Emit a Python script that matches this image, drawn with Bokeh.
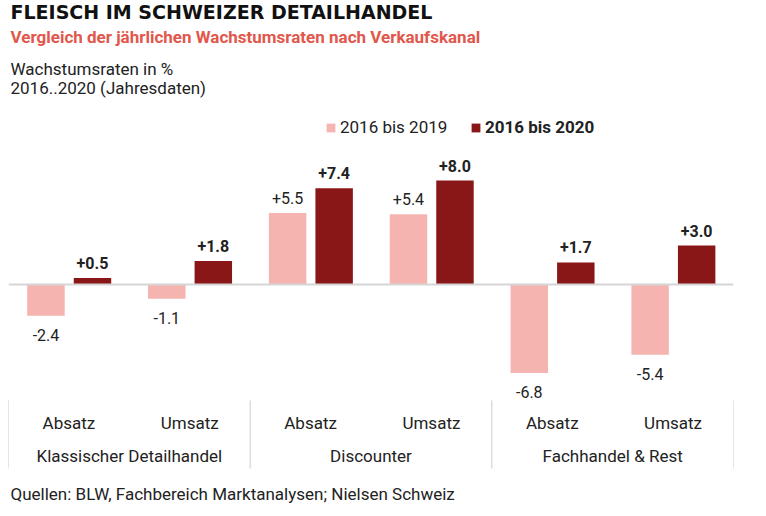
from bokeh.plotting import figure
from bokeh.models import (FactorRange, Range1d, ColumnDataSource, Label, Legend,
                          LegendItem, Span)
from bokeh.transform import dodge
from bokeh.core.properties import value
from bokeh.embed import file_html
from bokeh.resources import INLINE

# ---- data ----
groups = ["Klassischer Detailhandel", "Discounter", "Fachhandel & Rest"]
measures = ["Absatz", "Umsatz"]
series_labels = ["2016 bis 2019", "2016 bis 2020"]
growth_2016_2019 = [-2.4, -1.1, 5.5, 5.4, -6.8, -5.4]
growth_2016_2020 = [0.5, 1.8, 7.4, 8.0, 1.7, 3.0]

title_text = "FLEISCH IM SCHWEIZER DETAILHANDEL"
subtitle_text = "Vergleich der jährlichen Wachstumsraten nach Verkaufskanal"
unit_text = "Wachstumsraten in %"
period_text = "2016..2020 (Jahresdaten)"
source_text = "Quellen: BLW, Fachbereich Marktanalysen; Nielsen Schweiz"

LIGHT = "#f5b4af"
DARK = "#8a1717"
TXT = "#222222"
FONT = "Roboto"

factors = [(g, m) for g in groups for m in measures]

def fmt(v):
    return f"{v:+.1f}"

def offs(vals):
    return [-15 if v >= 0 else 19 for v in vals]

src = ColumnDataSource(dict(
    x=factors,
    a=growth_2016_2019,
    b=growth_2016_2020,
    la=[fmt(v) for v in growth_2016_2019],
    lb=[fmt(v) for v in growth_2016_2020],
    oa=offs(growth_2016_2019),
    ob=offs(growth_2016_2020),
    m=[f[1] for f in factors],
))

xr = FactorRange(*factors, factor_padding=0, group_padding=0,
                 subgroup_padding=0, range_padding=0)

FH = 512
p = figure(x_range=xr, y_range=Range1d(-17.538, 21.846),
           frame_width=725, frame_height=FH,
           min_border_left=8, min_border_right=30,
           min_border_top=0, min_border_bottom=0,
           toolbar_location=None, output_backend="svg",
           x_axis_location=None, y_axis_location=None, title=None)
p.xgrid.visible = False
p.ygrid.visible = False
p.outline_line_color = None

# zero line
p.add_layout(Span(location=0, dimension="width", line_color="#d5d5d5", line_width=2))

W = 0.31
r1 = p.vbar(x=dodge("x", -0.19, range=xr), top="a", bottom=0, width=W,
            source=src, fill_color=LIGHT, line_color=None)
r2 = p.vbar(x=dodge("x", 0.195, range=xr), top="b", bottom=0, width=W,
            source=src, fill_color=DARK, line_color=None)

p.text(x=dodge("x", -0.19, range=xr), y="a", text="la", y_offset="oa",
       source=src, text_align="center", text_baseline="alphabetic",
       text_font=value(FONT), text_font_size="16px", text_color=TXT)
p.text(x=dodge("x", 0.195, range=xr), y="b", text="lb", y_offset="ob",
       source=src, text_align="center", text_baseline="alphabetic",
       text_font=value(FONT), text_font_size="16px", text_font_style="bold",
       text_color=TXT)

# category labels
p.text(x="x", y=-10.65, text="m", source=src, text_align="center",
       text_baseline="alphabetic", text_font=value(FONT),
       text_font_size="17px", text_color=TXT)
gsrc = ColumnDataSource(dict(g=groups))
p.text(x="g", y=-13.18, text="g", source=gsrc, text_align="center",
       text_baseline="alphabetic", text_font=value(FONT),
       text_font_size="17px", text_color=TXT)

# separators
p.segment(x0=dodge("g", -1.0, range=xr), y0=-8.92, x1=dodge("g", -1.0, range=xr),
          y1=-14.15, source=gsrc, line_color="#cccccc", line_width=1)
lsrc = ColumnDataSource(dict(g=groups[-1:]))
p.segment(x0=dodge("g", 1.0, range=xr), y0=-8.92, x1=dodge("g", 1.0, range=xr),
          y1=-14.15, source=lsrc, line_color="#cccccc", line_width=1)

# legends
for item_r, lab, xloc, style in [(r1, series_labels[0], 317, "normal"),
                                 (r2, series_labels[1], 462, "bold")]:
    lg = Legend(items=[LegendItem(label=lab, renderers=[item_r])],
                location=(xloc, 375), orientation="horizontal",
                glyph_width=11, glyph_height=11, label_standoff=4,
                label_height=17, padding=0, margin=0, spacing=0,
                border_line_color=None, background_fill_alpha=0,
                label_text_font=FONT, label_text_font_size="17px",
                label_text_font_style=style, label_text_color=TXT)
    p.add_layout(lg, "center")

# header / footer texts (screen units relative to the frame, y from its bottom)
def page_label(text, x, base_y, size, style="normal", color=TXT, font=FONT):
    p.add_layout(Label(x=x, y=FH - base_y, x_units="screen", y_units="screen",
                       text=text, text_font=font, text_font_size=size,
                       text_font_style=style, text_color=color,
                       text_baseline="alphabetic", text_align="left"))

page_label(title_text, 2, 11, "19px", "bold", "#111111", "DejaVu Sans")
page_label(subtitle_text, 2, 36, "17px", "bold", "#e2574c")
page_label(unit_text, 2, 68, "17px")
page_label(period_text, 2, 87, "17px")
page_label(source_text, 2, 493, "17px")

open("out.html", "w").write(file_html(p, INLINE))
